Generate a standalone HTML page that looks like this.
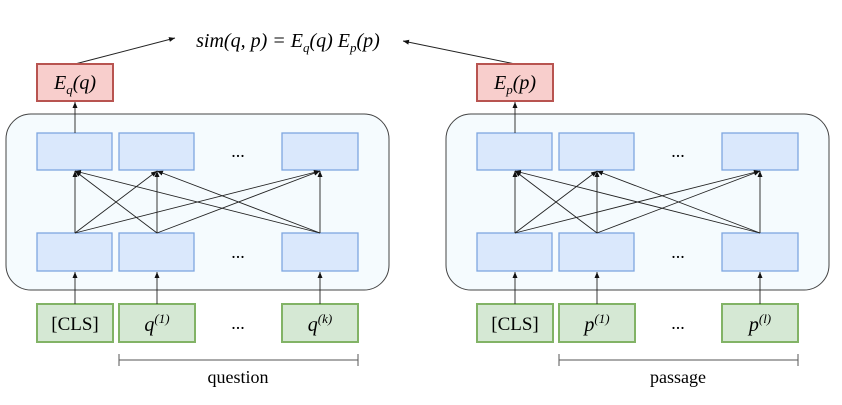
<!DOCTYPE html><html><head><style>body{margin:0;background:#fff}</style></head><body>
<svg width="842" height="400" xmlns="http://www.w3.org/2000/svg" font-family="Liberation Serif, serif">
<defs><marker id="a" markerWidth="6" markerHeight="5" refX="6" refY="2.5" orient="auto" markerUnits="userSpaceOnUse"><path d="M0,0L6,2.5L0,5z" fill="#111"/></marker></defs>
<text x="288" y="47" font-size="20" font-style="italic" text-anchor="middle">sim(q, p) = E<tspan font-size="13" dy="5">q</tspan><tspan dy="-5">(q) E</tspan><tspan font-size="13" dy="5">p</tspan><tspan dy="-5">(p)</tspan></text>
<line x1="75" y1="64" x2="175" y2="38" stroke="#222" marker-end="url(#a)"/>
<line x1="515" y1="64" x2="403" y2="41" stroke="#222" marker-end="url(#a)"/>
<g id="L">
<rect x="6" y="114" width="383" height="176" rx="25" fill="#f5fbfe" stroke="#444"/>
<g fill="#dae8fc" stroke="#7ea6e0" stroke-width="1.3">
<rect x="37" y="133" width="75" height="37"/><rect x="119" y="133" width="75" height="37"/><rect x="282" y="133" width="76" height="37"/>
<rect x="37" y="233" width="75" height="38"/><rect x="119" y="233" width="75" height="38"/><rect x="282" y="233" width="76" height="38"/>
</g>
<g fill="#d5e8d4" stroke="#82b366" stroke-width="2">
<rect x="37" y="304" width="76" height="38"/><rect x="119" y="304" width="76" height="38"/><rect x="282" y="304" width="76" height="38"/>
</g>
<g stroke="#222" stroke-width="0.9" marker-end="url(#a)">
<line x1="75" y1="233" x2="75" y2="171"/><line x1="75" y1="233" x2="157" y2="171"/><line x1="75" y1="233" x2="320" y2="171"/>
<line x1="157" y1="233" x2="75" y2="171"/><line x1="157" y1="233" x2="157" y2="171"/><line x1="157" y1="233" x2="320" y2="171"/>
<line x1="320" y1="233" x2="75" y2="171"/><line x1="320" y1="233" x2="157" y2="171"/><line x1="320" y1="233" x2="320" y2="171"/>
<line x1="75" y1="304" x2="75" y2="272"/><line x1="157" y1="304" x2="157" y2="272"/><line x1="320" y1="304" x2="320" y2="272"/>
<line x1="75" y1="133" x2="75" y2="102"/>
</g>
<g stroke="#555"><line x1="119" y1="360" x2="358" y2="360"/><line x1="119" y1="354" x2="119" y2="366"/><line x1="358" y1="354" x2="358" y2="366"/></g>
<g font-size="18" text-anchor="middle"><text x="238" y="157">...</text><text x="238" y="258">...</text><text x="238" y="329">...</text></g>
<text x="75" y="330" font-size="19" text-anchor="middle">[CLS]</text>
</g>
<use href="#L" x="440"/>
<rect x="37" y="64" width="76" height="37" fill="#f8cecc" stroke="#b85450" stroke-width="2"/>
<rect x="477" y="64" width="76" height="37" fill="#f8cecc" stroke="#b85450" stroke-width="2"/>
<g font-size="20" font-style="italic" text-anchor="middle">
<text x="75" y="89">E<tspan font-size="13" dy="5">q</tspan><tspan dy="-5">(q)</tspan></text>
<text x="515" y="89">E<tspan font-size="13" dy="5">p</tspan><tspan dy="-5">(p)</tspan></text>
<text x="157" y="331">q<tspan font-size="13" dy="-8">(1)</tspan></text>
<text x="320" y="331">q<tspan font-size="13" dy="-8">(k)</tspan></text>
<text x="597" y="331">p<tspan font-size="13" dy="-8">(1)</tspan></text>
<text x="760" y="331">p<tspan font-size="13" dy="-8">(l)</tspan></text>
</g>
<text x="238" y="383" font-size="18" text-anchor="middle">question</text>
<text x="678" y="383" font-size="18" text-anchor="middle">passage</text>
</svg></body></html>
